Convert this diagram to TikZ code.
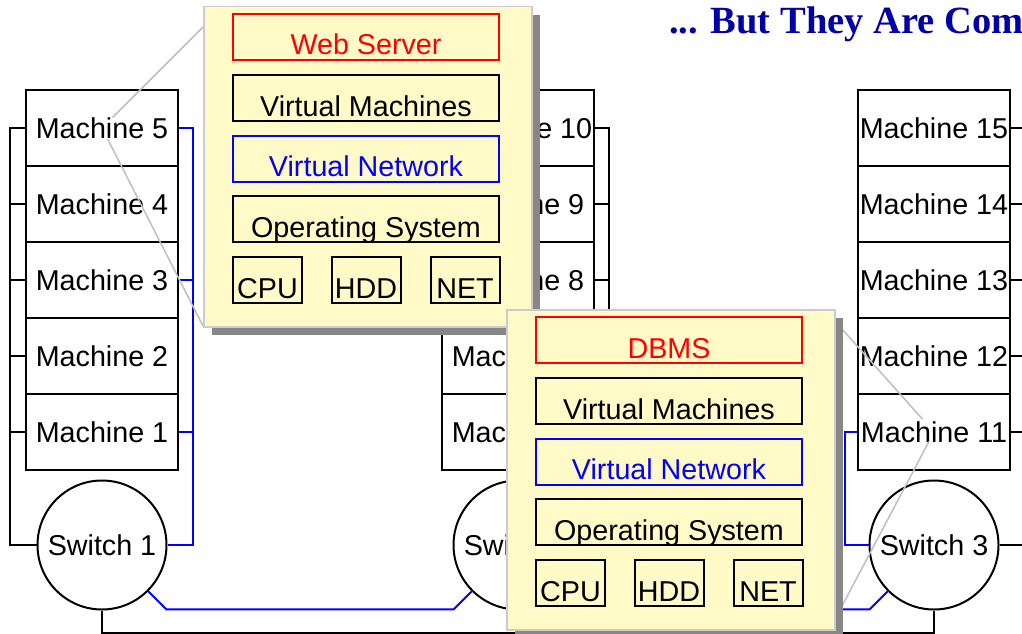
\documentclass[tikz,border=0pt]{standalone}
\usepackage{fontspec}
\setmainfont{Liberation Sans}
\newfontfamily\headfont{Liberation Serif}
\usetikzlibrary{shadows}

\definecolor{popfill}{rgb}{1,0.98,0.78}
\definecolor{popedge}{rgb}{0.8,0.8,0.8}
\definecolor{popshade}{rgb}{0.53,0.53,0.53}
\definecolor{headblue}{rgb}{0,0,0.65}
\definecolor{zoomline}{rgb}{0.75,0.75,0.75}

\tikzset{
  labelfont/.style={font=\fontsize{28.7}{34}\selectfont},
  machine/.style={draw,line width=2pt,fill=white,minimum width=152pt,minimum height=76pt,inner sep=0pt,labelfont},
  switch/.style={draw,circle,line width=2pt,fill=white,minimum size=129pt,inner sep=0pt,labelfont},
  popup/.style={draw=popedge,line width=1.5pt,fill=popfill,minimum width=328pt,minimum height=320pt,inner sep=0pt,
    drop shadow={shadow xshift=8pt,shadow yshift=-8pt,fill=popshade,opacity=1}},
  layer/.style={draw,line width=2pt,minimum width=266pt,minimum height=46pt,inner sep=0pt,text height=41pt,text depth=5pt,labelfont},
  hw/.style={layer,minimum width=69pt},
  wire/.style={line width=2pt},
  vwire/.style={line width=2pt,blue},
  zoomed/.style={line width=1.5pt,zoomline},
  title/.style={text=headblue,font=\headfont\bfseries\fontsize{38.5}{46}\selectfont,inner sep=0pt}
}

\begin{document}
\begin{tikzpicture}[x=1pt,y=-1pt]
\useasboundingbox (0,0) rectangle (1022,634);

\node[title,anchor=base west] (head) at (669,34) {... But They Are Com};

\foreach \i in {1,...,5}
  \node[machine] (m\i) at (102,{508-76*\i}) {Machine \i};
\foreach \i in {6,...,10}
  \node[machine] (m\i) at (518,{888-76*\i}) {Machine \i};
\foreach \i in {11,...,15}
  \node[machine] (m\i) at (934,{1268-76*\i}) {Machine \i};

\node[switch] (sw1) at (102,545) {Switch 1};
\node[switch] (sw2) at (518,545) {Switch 2};
\node[switch] (sw3) at (934,545) {Switch 3};

\coordinate (b1) at (10,545);
\coordinate (v1) at (193,545);
\coordinate (b2) at (609,545);
\coordinate (v3) at (845,545);
\coordinate (b3) at (1026,545);

\draw[wire] (m5.west) -| (b1) -- (sw1.west);
\foreach \i in {1,...,4} \draw[wire] (m\i.west) -- (m\i.west -| b1);
\draw[vwire] (m5.east) -| (v1) -- (sw1.east);
\foreach \i in {1,3} \draw[vwire] (m\i.east) -- (m\i.east -| v1);

\draw[wire] (m10.east) -| (b2) -- (sw2.east);
\foreach \i in {6,...,9} \draw[wire] (m\i.east) -- (m\i.east -| b2);

\draw[vwire] (m11.west) -| (v3) -- (sw3.west);
\draw[wire] (m15.east) -| (b3) -- (sw3.east);
\foreach \i in {11,...,14} \draw[wire] (m\i.east) -- (m\i.east -| b3);

\draw[vwire] (sw1.-45) -- ++(18,18) -- ([shift={(-18,18)}]sw2.-135) -- (sw2.-135);
\draw[vwire] (sw2.-45) -- ++(18,18) -- ([shift={(-18,18)}]sw3.-135) -- (sw3.-135);
\draw[wire] (sw1.south) -- ++(0,22) -| (sw3.south);

\coordinate (z1) at (203,27);
\coordinate (z2) at (203,326);
\coordinate (z3) at (833,319);
\coordinate (z4) at (833,623);
\draw[zoomed,shorten <=15pt] (m5.center) -- (z1);
\draw[zoomed,shorten <=12.5pt] (m5.center) -- (z2);
\draw[zoomed,shorten <=17pt] (m11.center) -- (z3);
\draw[zoomed,shorten <=11pt] (m11.center) -- (z4);

\foreach \n/\x/\y/\top in {1/203/6/Web Server,2/506/309/DBMS} {
  \node[popup,anchor=north west] (pop\n) at (\x,\y) {};
  \node[layer,draw=red,text=red] (app\n) at ({\x+163},{\y+31}) {\top};
  \node[layer] (vm\n) at ({\x+163},{\y+92}) {Virtual Machines};
  \node[layer,draw=blue,text=blue] (vn\n) at ({\x+163},{\y+152.5}) {Virtual Network};
  \node[layer] (os\n) at ({\x+163},{\y+213}) {Operating System};
  \node[hw] (cpu\n) at ({\x+64.5},{\y+274}) {CPU};
  \node[hw] (hdd\n) at ({\x+163},{\y+274}) {HDD};
  \node[hw] (net\n) at ({\x+262},{\y+274}) {NET};
}
\end{tikzpicture}
\end{document}
